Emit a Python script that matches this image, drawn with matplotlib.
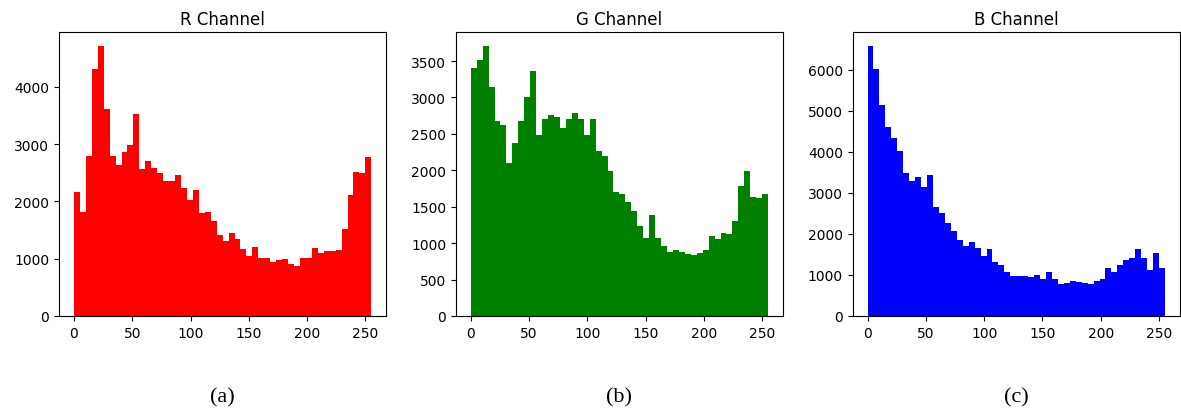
import numpy as np
import matplotlib
matplotlib.use("Agg")
import matplotlib.pyplot as plt

# 50 bins over 0..255, counts
bin_edges = np.linspace(0, 255, 51)

r_counts = [2170, 1810, 2790, 4310, 4720, 3610, 2790, 2630, 2870, 2980,
            3530, 2560, 2710, 2580, 2500, 2360, 2360, 2460, 2240, 2030,
            2200, 1790, 1810, 1660, 1410, 1310, 1440, 1350, 1170, 1050,
            1210, 1020, 1020, 940, 980, 1000, 900, 880, 1020, 1020,
            1190, 1100, 1140, 1130, 1150, 1520, 2110, 2520, 2490, 2770]

g_counts = [3400, 3520, 3710, 3150, 2670, 2620, 2100, 2380, 2680, 3000,
            3360, 2490, 2700, 2760, 2730, 2580, 2710, 2790, 2700, 2490,
            2710, 2260, 2190, 1990, 1700, 1670, 1570, 1440, 1230, 1070,
            1380, 1070, 960, 880, 910, 880, 850, 830, 860, 900,
            1100, 1060, 1140, 1120, 1310, 1780, 1990, 1630, 1620, 1680]

b_counts = [6580, 6020, 5130, 4590, 4330, 4020, 3470, 3280, 3390, 3130,
            3420, 2650, 2510, 2270, 2080, 1850, 1710, 1790, 1650, 1450,
            1620, 1310, 1250, 1080, 970, 970, 970, 940, 1000, 910,
            1060, 890, 770, 800, 850, 830, 800, 770, 850, 890,
            1170, 1060, 1250, 1360, 1400, 1620, 1400, 1110, 1530, 1170]

titles = ["R Channel", "G Channel", "B Channel"]
captions = ["(a)", "(b)", "(c)"]
colors = ["red", "green", "blue"]
all_counts = [r_counts, g_counts, b_counts]

centers = (bin_edges[:-1] + bin_edges[1:]) / 2

fig = plt.figure(figsize=(11.81, 4.10), dpi=100)
lefts = [0.050, 0.386, 0.722]

for i in range(3):
    ax = fig.add_axes([lefts[i], 0.227, 0.277, 0.692])
    ax.hist(centers, bins=bin_edges, weights=all_counts[i], color=colors[i])
    ax.set_title(titles[i], fontsize=12)
    ax.tick_params(labelsize=10)
    fig.text(lefts[i] + 0.1385, 0.03, captions[i], ha="center", va="center",
             fontsize=16, family="Liberation Serif")

fig.savefig("out.png", dpi=100)
